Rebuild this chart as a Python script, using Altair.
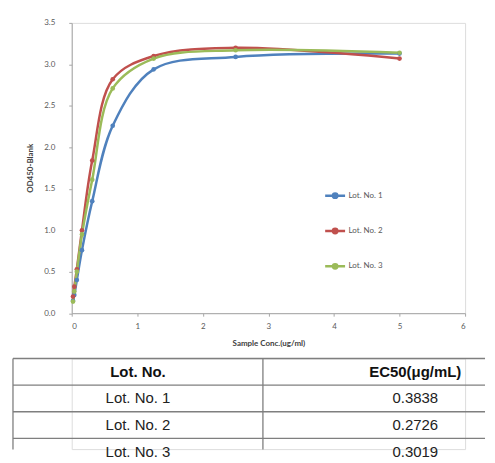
import altair as alt
import pandas as pd

# ---- data ----
conc = [0.0195, 0.039, 0.078, 0.156, 0.3125, 0.625, 1.25, 2.5, 5]
lot1 = [0.15, 0.22, 0.40, 0.76, 1.35, 2.26, 2.94, 3.09, 3.13]
lot2 = [0.20, 0.32, 0.53, 1.00, 1.84, 2.82, 3.10, 3.20, 3.07]
lot3 = [0.14, 0.26, 0.50, 0.95, 1.61, 2.71, 3.07, 3.17, 3.14]
series = ["Lot. No. 1", "Lot. No. 2", "Lot. No. 3"]
colors = ["#4F81BD", "#C0504D", "#9BBB59"]

table_header = ["Lot. No.", "EC50(μg/mL)"]
table_lots = ["Lot. No. 1", "Lot. No. 2", "Lot. No. 3"]
table_ec50 = ["0.3838", "0.2726", "0.3019"]

rows = []
for name, vals in zip(series, [lot1, lot2, lot3]):
    for c, v in zip(conc, vals):
        rows.append({"conc": c, "od": v, "lot": name})
df = pd.DataFrame(rows)

FONT = "Lato"
AX = "#A6A6A6"
LBL = "#595959"

x_enc = alt.X("conc:Q", scale=alt.Scale(domain=[0, 6], nice=False),
              axis=alt.Axis(values=[0, 1, 2, 3, 4, 5, 6], format="d", grid=False,
                            domainColor=AX, tickColor=AX, tickSize=3,
                            labelFont=FONT, labelFontSize=8, labelColor=LBL, labelPadding=6,
                            title="Sample Conc.(ug/ml)", titleFont=FONT, titleFontSize=8,
                            titleFontWeight="bold", titleColor="#404040",
                            titleY=30, titleBaseline="middle"))
y_enc = alt.Y("od:Q", scale=alt.Scale(domain=[0, 3.5], nice=False),
              axis=alt.Axis(values=[0, 0.5, 1, 1.5, 2, 2.5, 3, 3.5], format=".1f", grid=False,
                            domainColor=AX, tickColor=AX, tickSize=3,
                            labelFont=FONT, labelFontSize=8, labelColor=LBL, labelPadding=14,
                            title="OD450-Blank", titleFont=FONT, titleFontSize=8,
                            titleFontWeight="bold", titleColor="#404040",
                            titleX=-41, titleY=145.5, titleAngle=270,
                            titleAlign="center", titleBaseline="middle"))

cscale = alt.Scale(domain=series, range=colors)
base = alt.Chart(df).encode(x=x_enc, y=y_enc)
lines = base.mark_line(interpolate="catmull-rom", strokeWidth=2.5).encode(
    color=alt.Color("lot:N", scale=cscale,
                    legend=alt.Legend(title=None, orient="none", legendX=253, legendY=162,
                                      symbolType="M-1,0H1M0.22,0A0.22,0.22,0,1,1,-0.22,0A0.22,0.22,0,1,1,0.22,0",
                                      symbolSize=400, symbolStrokeWidth=2.5,
                                      rowPadding=16.5, labelOffset=2, padding=0,
                                      labelFont=FONT, labelFontSize=8, labelColor=LBL)))
points = base.mark_circle(size=22, opacity=1).encode(
    color=alt.Color("lot:N", scale=cscale, legend=None))
plot = alt.layer(lines, points).properties(width=395, height=291.5)

# ---- table ----
hlines = pd.DataFrame({"y": [0, 1, 2, 3], "x0": [0] * 4, "x1": [0.851] * 4})
vlines = pd.DataFrame({"x": [0, 0.4506], "y0": [0, 0], "y1": [3.42, 3.42]})
cells = []
for j, h in enumerate(table_header):
    cells.append({"col": [0.2253, 0.7253][j], "row": 0.5, "t": h, "w": "bold"})
for i, (a, b) in enumerate(zip(table_lots, table_ec50)):
    cells.append({"col": 0.2253, "row": i + 1.5, "t": a, "w": "normal"})
    cells.append({"col": 0.7253, "row": i + 1.5, "t": b, "w": "normal"})
cells = pd.DataFrame(cells)

tx = alt.Scale(domain=[0, 1], range=[-59, 498])
ty = alt.Scale(domain=[0, 4], range=[0, 107])
LINE = "#7F7F7F"
h = alt.Chart(hlines).mark_rule(color=LINE, strokeWidth=1.3).encode(
    x=alt.X("x0:Q", scale=tx, axis=None), x2="x1:Q",
    y=alt.Y("y:Q", scale=ty, axis=None))
v = alt.Chart(vlines).mark_rule(color=LINE, strokeWidth=1.3).encode(
    x=alt.X("x:Q", scale=tx, axis=None),
    y=alt.Y("y0:Q", scale=ty, axis=None), y2="y1:Q")
tb = alt.Chart(cells[cells.w == "bold"]).mark_text(
    font="Liberation Sans", fontSize=15, fontWeight="bold", color="#111111", baseline="middle").encode(
    x=alt.X("col:Q", scale=tx, axis=None), y=alt.Y("row:Q", scale=ty, axis=None), text="t:N")
tn = alt.Chart(cells[cells.w == "normal"]).mark_text(
    font="Liberation Sans", fontSize=15, color="#222222", baseline="middle").encode(
    x=alt.X("col:Q", scale=tx, axis=None), y=alt.Y("row:Q", scale=ty, axis=None), text="t:N")
table = alt.layer(h, v, tb, tn).properties(width=395, height=91)

chart = alt.vconcat(plot, table, spacing=45, bounds="flush").resolve_scale(
    x="independent", y="independent", color="independent"
).properties(
    padding={"left": 3, "top": 9, "right": 0, "bottom": 0}
).configure_view(stroke=None).configure(background="white")

chart.save("out.html", embed_options={"renderer": "svg", "actions": False})
